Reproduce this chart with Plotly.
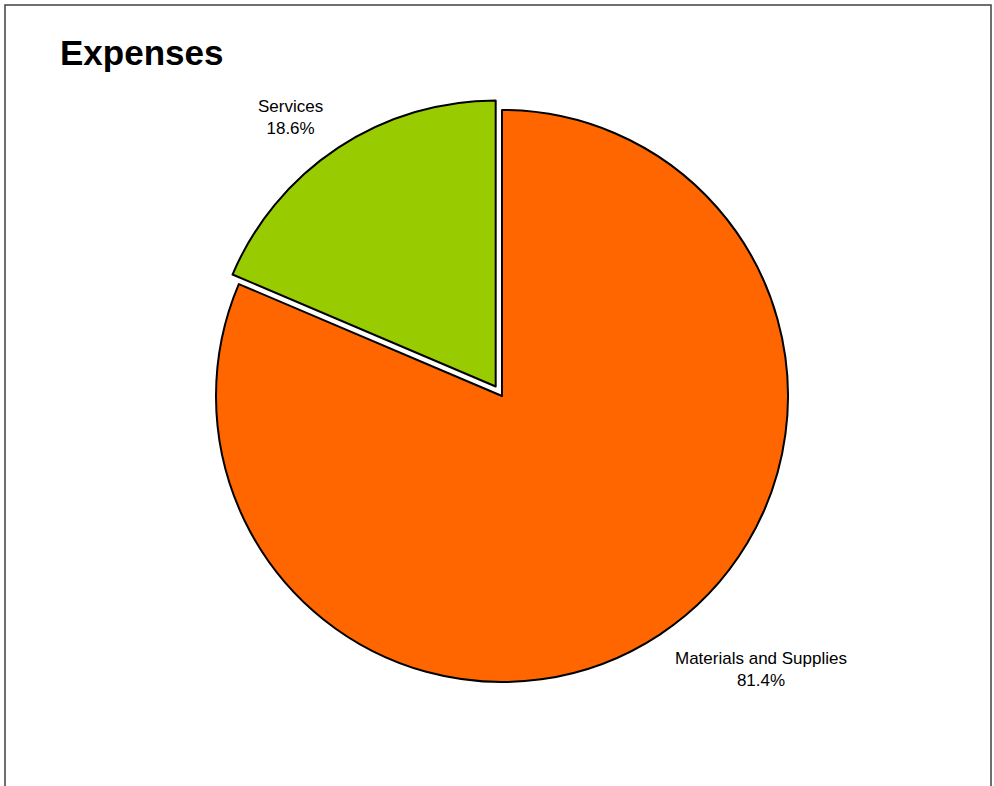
import math
import plotly.graph_objects as go

categories = ["Materials and Supplies", "Services"]
values = [81.4, 18.6]
colors = ["#FF6600", "#99CC00"]
pulls = [0, 0.04]

W, H = 994, 786
cx, cy, r = 502, 396, 286
half = r * (1 + max(pulls))
label_gap = 18
FONT = "Liberation Sans, Arial, sans-serif"

fig = go.Figure(go.Pie(
    labels=categories,
    values=values,
    sort=False,
    direction="clockwise",
    rotation=0,
    pull=pulls,
    marker=dict(colors=colors, line=dict(color="black", width=2)),
    textinfo="none",
    showlegend=False,
    hoverinfo="label+percent",
    domain=dict(x=[(cx - half) / W, (cx + half) / W],
                y=[(H - cy - half) / H, (H - cy + half) / H]),
))

# outside labels placed along each slice's mid-angle (derived from the values)
total = sum(values)
annotations = []
cum = 0.0
for lab, v, p in zip(categories, values, pulls):
    frac = v / total
    mid = (cum + frac / 2) * 2 * math.pi
    cum += frac
    dx, dy = math.sin(mid), -math.cos(mid)  # screen coords, clockwise from top
    rad = r * (1 + p) + label_gap
    px, py = cx + rad * dx, cy + rad * dy
    annotations.append(dict(
        x=px / W, y=1 - py / H, xref="paper", yref="paper",
        text=f"{lab}<br>{frac * 100:.1f}%", showarrow=False, align="center",
        xanchor="left" if dx > 0 else "right",
        yanchor="top" if dy > 0 else "bottom",
        xshift=3 if dx > 0 else -3,
        yshift=3 if dy > 0 else -7,
        font=dict(family=FONT, size=17, color="black"),
    ))

fig.update_layout(
    width=W, height=H,
    margin=dict(l=0, r=0, t=0, b=0),
    paper_bgcolor="white",
    plot_bgcolor="white",
    title=dict(text="<b>Expenses</b>", x=60 / W, xanchor="left", xref="container",
               y=1 - 53 / H, yanchor="middle", yref="container",
               font=dict(family=FONT, size=35, color="black")),
    annotations=annotations,
    shapes=[dict(type="rect", xref="paper", yref="paper",
                 x0=5 / W, x1=991 / W, y0=-0.2, y1=1 - 5 / H,
                 line=dict(color="#404040", width=1.5), fillcolor="rgba(0,0,0,0)")],
)

fig.write_html("out.html", config={"displayModeBar": False},
               post_script="document.body.style.margin='0px';")
